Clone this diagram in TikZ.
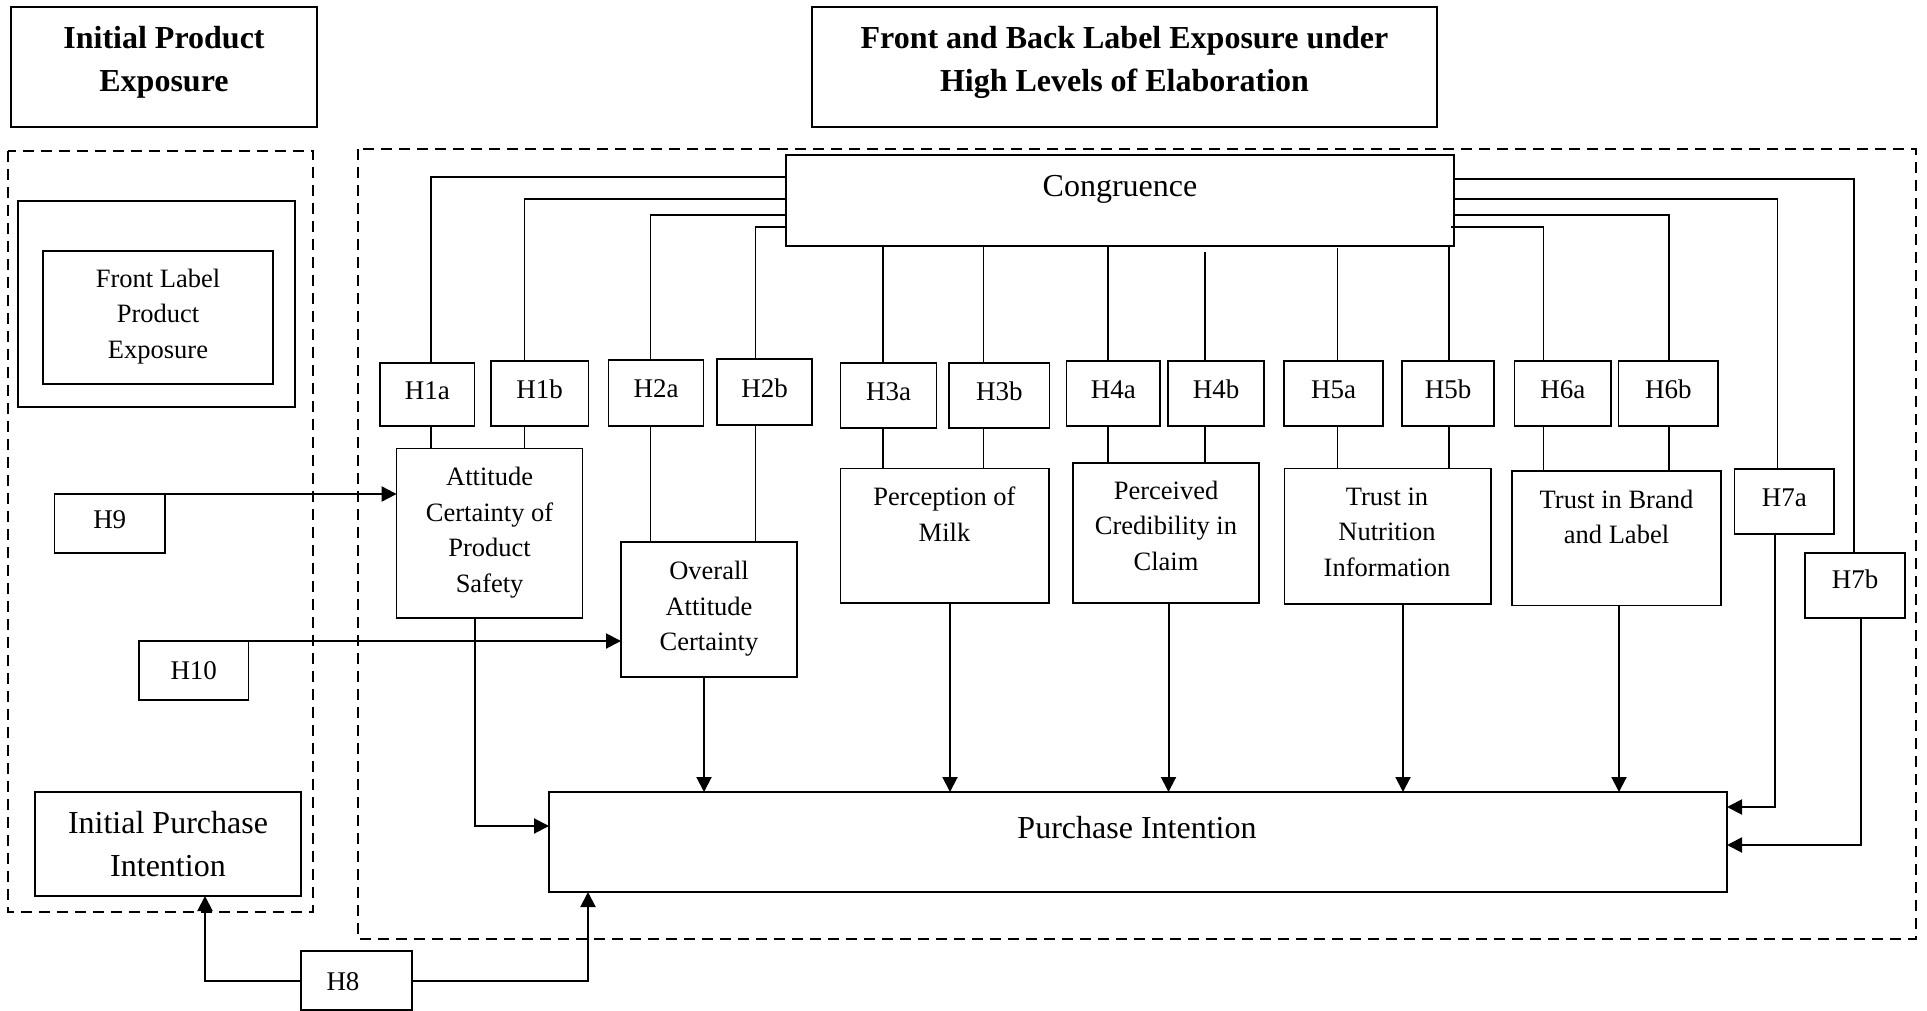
\documentclass[tikz,border=0pt]{standalone}
\usepackage{fontspec}
\setmainfont{Liberation Serif}
\usetikzlibrary{arrows.meta,calc}
\tikzset{
  box/.style={draw, line width=1.7pt, inner sep=0pt, outer sep=0pt},
  txt/.style={align=center, inner sep=0pt, font=\fontsize{26.5}{35.5}\selectfont},
  bigtxt/.style={align=center, inner sep=0pt, font=\fontsize{32}{42.5}\selectfont},
  titletxt/.style={align=center, inner sep=0pt, font=\fontsize{32}{43}\selectfont\bfseries},
  hypc/.style={box, font=\fontsize{27}{32}\selectfont},
  hyp/.style={hypc, text depth=8pt},
  hyptxt/.style={inner sep=0pt, font=\fontsize{27}{32}\selectfont},
  conn/.style={line width=1.5pt},
  arr/.style={line width=2pt, -{Triangle[length=15pt,width=15pt]}},
  dashbox/.style={draw, line width=1.6pt, dash pattern=on 11pt off 7pt},
}
\newcommand\mybox[7][]{\node[box,#1,minimum width={(#5-#3)*1pt},minimum height={(#6-#4)*1pt}] (#2) at ({(#3+#5)/2},{(#4+#6)/2}) {#7};}
\begin{document}
\begin{tikzpicture}[x=1pt,y=-1pt]
\path[use as bounding box, fill=white] (0,0) rectangle (1927,1011);
% titles
\mybox{t1}{11}{7}{317}{127}{}
\node[titletxt] (t1t) at (164,62.5) {Initial Product\\Exposure};
\mybox{t2}{812}{7}{1437}{127}{}
\node[titletxt] (t2t) at (1124.5,62.5) {Front and Back Label Exposure under\\High Levels of Elaboration};
% dashed regions
\draw[dashbox] (8,151) rectangle (313,912);
\draw[dashbox] (358,149) rectangle (1916,939);
% left column
\mybox{flo}{18}{201}{295}{407}{}
\mybox{fli}{43}{251}{273}{384}{}
\node[txt] (flt) at (158,316.5) {Front Label\\Product\\Exposure};
\mybox[hyp]{h9}{54.5}{494}{165}{553}{H9}
\mybox[hypc]{h10}{139}{641}{248.5}{700}{H10}
\mybox{ipi}{35}{792}{301}{896}{}
\node[bigtxt] (ipit) at (168,843.8) {Initial Purchase\\Intention};
\mybox{h8}{301}{951}{412}{1010}{}
\node[hyptxt] (h8t) at (343,982) {H8};
% congruence and purchase intention
\mybox{cong}{786}{155}{1454}{246}{}
\node[bigtxt] (congt) at (1120,189) {Congruence};
\mybox{pi}{549}{792}{1727}{892}{}
\node[bigtxt] (pit) at (1137,828) {Purchase Intention};
% hypothesis row
\mybox[hyp]{h1a}{380}{362.7}{474.5}{426}{H1a}
\mybox[hyp]{h1b}{491}{360.7}{588.4}{426}{H1b}
\mybox[hyp]{h2a}{608.5}{360}{703.6}{426}{H2a}
\mybox[hyp]{h2b}{717}{359}{812}{425}{H2b}
\mybox[hyp]{h3a}{840.6}{362.7}{936.6}{428}{H3a}
\mybox[hyp]{h3b}{949}{362.7}{1049.6}{428}{H3b}
\mybox[hyp]{h4a}{1066.5}{360.7}{1160}{426}{H4a}
\mybox[hyp]{h4b}{1168}{360.7}{1264}{426}{H4b}
\mybox[hyp]{h5a}{1284}{360.7}{1383}{426}{H5a}
\mybox[hyp]{h5b}{1402}{360.7}{1494}{426}{H5b}
\mybox[hyp]{h6a}{1514.5}{360.7}{1611}{426}{H6a}
\mybox[hyp]{h6b}{1618.6}{360.7}{1718}{426}{H6b}
\mybox[hyp]{h7a}{1734.5}{469}{1834}{534}{H7a}
\mybox[hyp,text depth=12pt]{h7b}{1805}{553}{1905}{618}{H7b}
% constructs
\mybox{att}{396.6}{448.6}{582.6}{618}{}
\node[txt] (attt) at (489.6,532.5) {Attitude\\Certainty of\\Product\\Safety};
\mybox{ovr}{621}{542}{797}{677}{}
\node[txt] (ovrt) at (709,609) {Overall\\Attitude\\Certainty};
\mybox{per}{840.4}{468.6}{1048.7}{603}{}
\node[txt] (pert) at (944.5,514) {Perception of\\Milk};
\mybox{cred}{1073}{463}{1259}{603}{}
\node[txt] (credt) at (1166,525.5) {Perceived\\Credibility in\\Claim};
\mybox{tni}{1284.5}{468.6}{1490.8}{604}{}
\node[txt] (tnit) at (1387,532) {Trust in\\Nutrition\\Information};
\mybox{tbl}{1512}{471}{1721}{605.4}{}
\node[txt] (tblt) at (1616.5,517) {Trust in Brand\\and Label};
% column coordinates
\coordinate (c1a) at (431,0);
\coordinate (c1b) at (524.5,0);
\coordinate (c2a) at (650.5,0);
\coordinate (c2b) at (755.5,0);
\coordinate (c3a) at (883,0);
\coordinate (c3b) at (983.5,0);
\coordinate (c4a) at (1108,0);
\coordinate (c4b) at (1205,0);
\coordinate (c5a) at (1337.5,0);
\coordinate (c5b) at (1449,0);
\coordinate (c6a) at (1543.5,0);
\coordinate (c6b) at (1669,0);
\coordinate (c7a) at (1777.6,0);
\coordinate (c7b) at (1854,0);
% congruence links
\draw[conn] ($(cong.north west)+(0,22)$) -| (h1a.north -| c1a);
\draw[conn] ($(cong.north west)+(0,44)$) -| (h1b.north -| c1b);
\draw[conn] ($(cong.north west)+(0,60)$) -| (h2a.north -| c2a);
\draw[conn] ($(cong.north west)+(0,72)$) -| (h2b.north -| c2b);
\draw[conn] (cong.south -| c3a) -- (h3a.north -| c3a);
\draw[conn] (cong.south -| c3b) -- (h3b.north -| c3b);
\draw[conn] (cong.south -| c4a) -- (h4a.north -| c4a);
\draw[conn] ($(cong.south -| c4b)+(0,6)$) -- (h4b.north -| c4b);
\draw[conn] ($(cong.south -| c5a)+(0,2)$) -- (h5a.north -| c5a);
\draw[conn] (cong.south -| c5b) -- (h5b.north -| c5b);
\draw[conn] ($(cong.north east)+(-3,72)$) -| (h6a.north -| c6a);
\draw[conn] ($(cong.north east)+(0,60)$) -| (h6b.north -| c6b);
\draw[conn] ($(cong.north east)+(0,44)$) -| (h7a.north -| c7a);
\draw[conn] ($(cong.north east)+(0,24)$) -| (h7b.north -| c7b);
% hypotheses to constructs
\draw[conn] (h1a.south -| c1a) -- (att.north -| c1a);
\draw[conn] (h1b.south -| c1b) -- (att.north -| c1b);
\draw[conn] (h2a.south -| c2a) -- (ovr.north -| c2a);
\draw[conn] (h2b.south -| c2b) -- (ovr.north -| c2b);
\draw[conn] (h3a.south -| c3a) -- (per.north -| c3a);
\draw[conn] (h3b.south -| c3b) -- (per.north -| c3b);
\draw[conn] (h4a.south -| c4a) -- (cred.north -| c4a);
\draw[conn] (h4b.south -| c4b) -- (cred.north -| c4b);
\draw[conn] (h5a.south -| c5a) -- (tni.north -| c5a);
\draw[conn] (h5b.south -| c5b) -- (tni.north -| c5b);
\draw[conn] (h6a.south -| c6a) -- (tbl.north -| c6a);
\draw[conn] (h6b.south -| c6b) -- (tbl.north -| c6b);
% arrows to purchase intention
\coordinate (d1) at (475,826);
\draw[arr] (att.south -| d1) |- (pi.west |- d1);
\coordinate (d2) at (704,0);
\draw[arr] (ovr.south -| d2) -- (pi.north -| d2);
\coordinate (d3) at (950,0);
\draw[arr] (per.south -| d3) -- (pi.north -| d3);
\coordinate (d4) at (1168.5,0);
\draw[arr] (cred.south -| d4) -- (pi.north -| d4);
\coordinate (d5) at (1403,0);
\draw[arr] (tni.south -| d5) -- (pi.north -| d5);
\coordinate (d6) at (1619,0);
\draw[arr] (tbl.south -| d6) -- (pi.north -| d6);
\coordinate (d7) at (1775,807);
\draw[arr] (h7a.south -| d7) |- (pi.east |- d7);
\coordinate (d8) at (1861,845);
\draw[arr] (h7b.south -| d8) |- (pi.east |- d8);
% H9, H10, H8
\draw[arr] (h9.north east) -- (h9.north east -| att.west);
\draw[arr] (h10.north east) -- (h10.north east -| ovr.west);
\coordinate (d9) at (205,0);
\draw[arr] (h8.west) -| (ipi.south -| d9);
\coordinate (d10) at (588,0);
\draw[arr] (h8.east) -| (pi.south -| d10);
\end{tikzpicture}
\end{document}
